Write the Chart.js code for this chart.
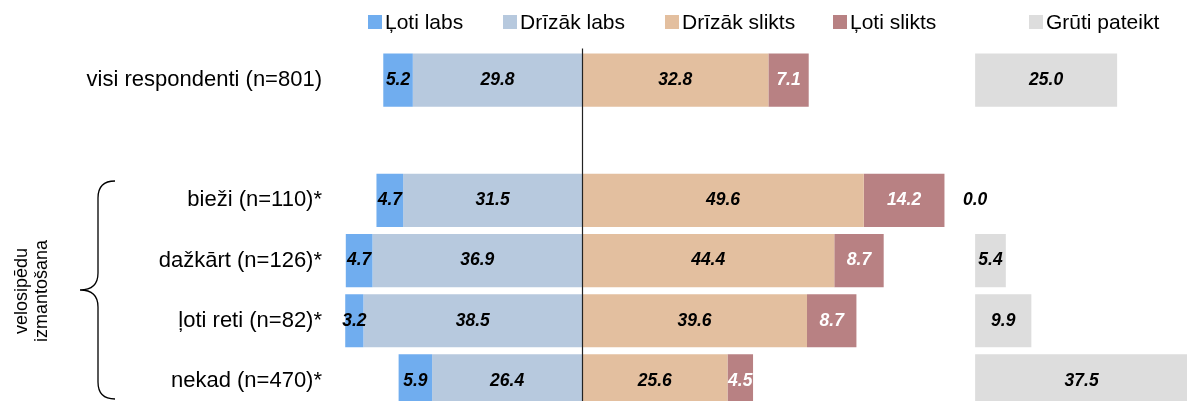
<!DOCTYPE html>
<html lang="lv">
<head>
<meta charset="utf-8">
<title>Velosipēdu izmantošana</title>
<script src="https://cdn.jsdelivr.net/npm/chart.js@4.4.1/dist/chart.umd.min.js"></script>
<style>
    html, body { margin: 0; padding: 0; overflow: hidden; background: #fff; }
    #wrap { position: relative; width: 1187px; height: 411px; }
</style>
</head>
<body>
<div id="wrap"><canvas id="grafiks"></canvas></div>
<script>
// Dati (%)
const kategorijas = ['visi respondenti (n=801)', '', 'bieži (n=110)*', 'dažkārt (n=126)*', 'ļoti reti (n=82)*', 'nekad (n=470)*'];
const lotiLabs     = [5.2,  null, 4.7,  4.7,  3.2,  5.9];
const drizakLabs   = [29.8, null, 31.5, 36.9, 38.5, 26.4];
const drizakSlikts = [32.8, null, 49.6, 44.4, 39.6, 25.6];
const lotiSlikts   = [7.1,  null, 14.2, 8.7,  8.7,  4.5];
const grutiPateikt = [25.0, null, 0.0,  5.4,  9.9,  37.5];

const serijuNosaukumi = ['Ļoti labs', 'Drīzāk labs', 'Drīzāk slikts', 'Ļoti slikts', 'Grūti pateikt'];
const krasas = ['#70ADEF', '#B7C9DE', '#E3BF9F', '#B88183', '#DDDDDD'];

// Izkārtojums
const FONTS = 'Arial, "Liberation Sans", sans-serif';
const GRUTI_SAKUMS = 69.2;          // kur sākas "Grūti pateikt" kolonna uz x ass
const legendaX = [385, 520, 682, 850, 1046];

document.addEventListener('DOMContentLoaded', function() {
    zimetGrafiku();
});

/**
 * Floating intervals for one series, built from the value arrays
 */
function intervali(fn) {
    return kategorijas.map(function(_, i) {
        return lotiLabs[i] == null ? null : fn(i);
    });
}

/**
 * Value labels in the middle of each segment
 */
const vertibuEtiketes = {
    id: 'vertibuEtiketes',
    afterDatasetsDraw(chart) {
        const ctx = chart.ctx;
        ctx.save();
        ctx.font = 'italic bold 17.5px ' + FONTS;
        ctx.textAlign = 'center';
        ctx.textBaseline = 'middle';
        chart.data.datasets.forEach(function(ds, di) {
            const meta = chart.getDatasetMeta(di);
            meta.data.forEach(function(el, i) {
                const v = ds.vertibas[i];
                if (v == null) return;
                ctx.fillStyle = ds.etiketesKrasa;
                ctx.fillText(v.toFixed(1), (el.x + el.base) / 2, el.y);
            });
        });
        ctx.restore();
    }
};

/**
 * Category labels, center line, legend, brace and the rotated group title
 */
const apdare = {
    id: 'apdare',
    afterDraw(chart) {
        const ctx = chart.ctx;
        const area = chart.chartArea;
        const yAss = chart.scales.y;
        ctx.save();

        // category labels
        ctx.fillStyle = '#000';
        ctx.font = '22px ' + FONTS;
        ctx.textAlign = 'right';
        ctx.textBaseline = 'middle';
        kategorijas.forEach(function(k, i) {
            ctx.fillText(k, area.left - 13, yAss.getPixelForTick(i));
        });

        // vertical line at 0
        const x0 = Math.round(chart.scales.x.getPixelForValue(0)) + 0.5;
        ctx.strokeStyle = '#222';
        ctx.lineWidth = 1.2;
        ctx.beginPath();
        ctx.moveTo(x0, area.top - 1.5);
        ctx.lineTo(x0, area.bottom);
        ctx.stroke();

        // legend
        ctx.font = '21px ' + FONTS;
        ctx.textAlign = 'left';
        serijuNosaukumi.forEach(function(nos, i) {
            ctx.fillStyle = krasas[i];
            ctx.fillRect(legendaX[i] - 17, 15, 14, 14);
            ctx.fillStyle = '#000';
            ctx.fillText(nos, legendaX[i], 23);
        });

        // brace
        ctx.strokeStyle = '#000';
        ctx.lineWidth = 1.3;
        ctx.beginPath();
        ctx.moveTo(115, 181);
        ctx.quadraticCurveTo(98, 181, 98, 198);
        ctx.lineTo(98, 273);
        ctx.quadraticCurveTo(98, 290, 80, 290);
        ctx.quadraticCurveTo(98, 290, 98, 307);
        ctx.lineTo(98, 382);
        ctx.quadraticCurveTo(98, 399, 115, 399);
        ctx.stroke();

        // rotated title
        ctx.fillStyle = '#000';
        ctx.font = '18px ' + FONTS;
        ctx.textAlign = 'center';
        [['velosipēdu', 22], ['izmantošana', 42]].forEach(function(r) {
            ctx.save();
            ctx.translate(r[1], 291);
            ctx.rotate(-Math.PI / 2);
            ctx.fillText(r[0], 0, 0);
            ctx.restore();
        });

        ctx.restore();
    }
};

function zimetGrafiku() {
    const ctx = document.getElementById('grafiks');

    const kopa = function(nos, i, dati, vertibas, etiketesKrasa) {
        return {
            label: nos,
            data: dati,
            vertibas: vertibas,
            etiketesKrasa: etiketesKrasa,
            backgroundColor: krasas[i],
            borderWidth: 0,
            grouped: false,
            categoryPercentage: 1,
            barPercentage: 0.883
        };
    };

    new Chart(ctx, {
        type: 'bar',
        data: {
            labels: kategorijas,
            datasets: [
                kopa(serijuNosaukumi[0], 0, intervali(i => [-(lotiLabs[i] + drizakLabs[i]), -drizakLabs[i]]), lotiLabs, '#000'),
                kopa(serijuNosaukumi[1], 1, intervali(i => [-drizakLabs[i], 0]), drizakLabs, '#000'),
                kopa(serijuNosaukumi[2], 2, intervali(i => [0, drizakSlikts[i]]), drizakSlikts, '#000'),
                kopa(serijuNosaukumi[3], 3, intervali(i => [drizakSlikts[i], drizakSlikts[i] + lotiSlikts[i]]), lotiSlikts, '#fff'),
                kopa(serijuNosaukumi[4], 4, intervali(i => [GRUTI_SAKUMS, GRUTI_SAKUMS + grutiPateikt[i]]), grutiPateikt, '#000')
            ]
        },
        options: {
            indexAxis: 'y',
            responsive: true,
            maintainAspectRatio: false,
            animation: false,
            layout: { padding: { top: 50, right: 0, bottom: 0, left: 335 } },
            plugins: {
                legend: { display: false },
                tooltip: { enabled: false }
            },
            scales: {
                x: {
                    display: false,
                    min: -43.5,
                    max: 106.5
                },
                y: {
                    display: false
                }
            }
        },
        plugins: [vertibuEtiketes, apdare]
    });
}
</script>
</body>
</html>
